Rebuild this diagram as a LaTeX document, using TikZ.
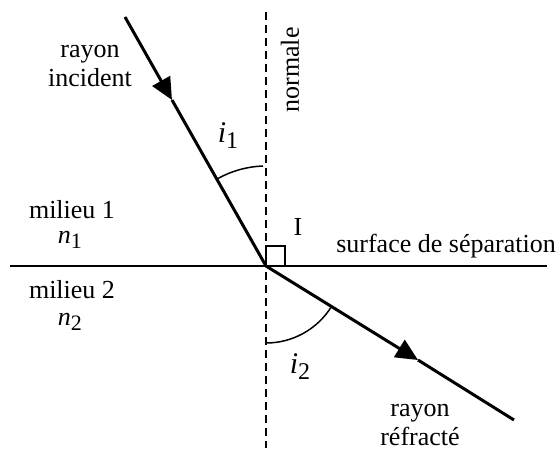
\documentclass[tikz,border=0pt]{standalone}
\usepackage{fontspec}
\setmainfont{Liberation Serif}
\usetikzlibrary{arrows.meta}

\newcommand{\angl}[1]{{\fontsize{15}{15}\selectfont\textit{i}}\raisebox{-0.5ex}{\fontsize{12}{12}\selectfont #1}}
\newcommand{\indice}[1]{\textit{n}\raisebox{-0.45ex}{\fontsize{11}{11}\selectfont #1}}

\begin{document}
\begin{tikzpicture}[x=0.5pt,y=0.5pt,
  ray/.style={line width=1.5pt},
  thinline/.style={line width=0.75pt},
  tip/.style={-{Triangle[length=11pt,width=10pt]}},
  lbl/.style={font=\fontsize{13}{14.5}\selectfont, align=center, inner sep=0pt}]

\useasboundingbox (-266,-191) rectangle (294,266);

% points
\coordinate (I) at (0,0);
\coordinate (A) at (-141,249);
\coordinate (B) at (248,-154);
\coordinate (M1) at (-94,166);
\coordinate (M2) at (152,-94);
\coordinate (Ntop) at (0,254);
\coordinate (Nbot) at (0,-182);
\coordinate (Sl) at (-256,0);
\coordinate (Sr) at (281,0);

% normale et surface
\draw[thinline, dash pattern=on 4pt off 2.5pt] (Ntop) -- (Nbot);
\draw[thinline] (Sl) -- (Sr);
\draw[thinline] (I) rectangle (19,20);

% rayons
\draw[ray, tip] (A) -- (M1);
\draw[ray] (M1) -- (I);
\draw[ray, tip] (I) -- (M2);
\draw[ray] (M2) -- (B);

% angles
\draw[thinline] (-3,100) arc (92:119:100);
\draw[thinline] (0,-77) arc (270:328:77);

% textes
\node[lbl] (inc) at (-176,200) {rayon\\incident};
\node[lbl, rotate=90] (nor) at (24,196) {normale};
\node[lbl] (a1) at (-38,130) {\angl{1}};
\node[lbl] (m1) at (-194,56) {milieu 1};
\node[lbl] (n1) at (-196,26) {\indice{1}};
\node[lbl] (m2) at (-194,-24) {milieu 2};
\node[lbl] (n2) at (-196,-56) {\indice{2}};
\node[lbl] (lI) at (32,39) {I};
\node[lbl] (surf) at (180,20) {surface de séparation};
\node[lbl] (a2) at (34,-101) {\angl{2}};
\node[lbl] (refr) at (154,-159) {rayon\\réfracté};

\end{tikzpicture}
\end{document}
